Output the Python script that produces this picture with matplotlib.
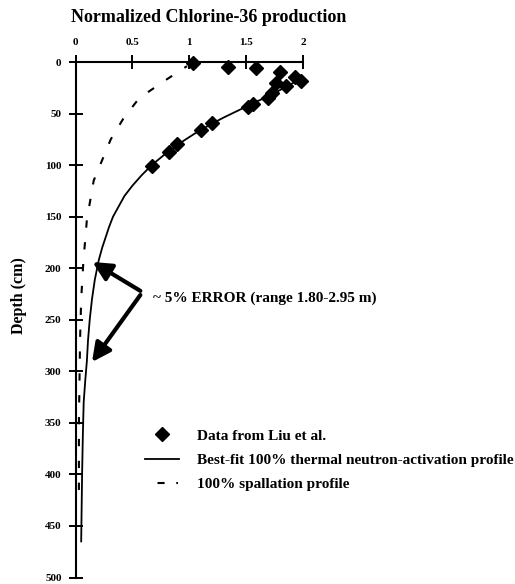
import matplotlib
matplotlib.use("Agg")
import matplotlib.pyplot as plt
from matplotlib.lines import Line2D

plt.rcParams['font.family'] = ['Liberation Serif', 'DejaVu Serif']
plt.rcParams['font.weight'] = 'bold'

# data: normalized production vs depth (cm)
liu_x = [1.03, 1.34, 1.59, 1.80, 1.93, 1.98, 1.85, 1.76, 1.73, 1.69, 1.56, 1.52,
         1.20, 1.10, 0.89, 0.82, 0.67]
liu_depth = [1, 5, 6, 10, 15, 18, 23, 20, 30, 35, 41, 44,
             59, 66, 80, 87, 101]

fit_x = [1.97, 1.85, 1.72, 1.58, 1.45, 1.30, 1.18, 1.04, 0.90, 0.78, 0.67, 0.58,
         0.50, 0.43, 0.38, 0.33, 0.295, 0.265, 0.235, 0.205, 0.17, 0.145,
         0.125, 0.11, 0.10, 0.085, 0.072, 0.065, 0.058, 0.05]
fit_depth = [17, 24, 32, 39, 46, 54, 61, 70, 80, 90, 100, 110,
             120, 130, 140, 150, 160, 170, 180, 192, 211, 230,
             250, 270, 290, 310, 330, 360, 400, 465]

spall_x = [0.98, 0.80, 0.56, 0.42, 0.31, 0.235, 0.16, 0.13, 0.10, 0.085, 0.07,
           0.05, 0.04, 0.035, 0.03, 0.03]
spall_depth = [4, 17, 35, 55, 75, 95, 115, 134, 153, 173, 192,
               230, 270, 310, 350, 420]

x_ticks = [0, 0.5, 1, 1.5, 2]
x_ticklabels = ['0', '0.5', '1', '1.5', '2']
y_ticks = [0, 50, 100, 150, 200, 250, 300, 350, 400, 450, 500]

W, H = 515, 584
fig = plt.figure(figsize=(W / 100, H / 100), dpi=100)
x0, x1, y0, y1 = 75.5, 303, 62, 577.5
ax = fig.add_axes([x0 / W, 1 - y1 / H, (x1 - x0) / W, (y1 - y0) / H])

ax.plot(spall_x, spall_depth, color='black', lw=1.5, linestyle=(2, (3.5, 7)))
ax.plot(fit_x, fit_depth, color='black', lw=1.3)
ax.plot(liu_x, liu_depth, linestyle='none', marker='D', markersize=7,
        color='black', clip_on=False)

ax.set_xlim(0, 2)
ax.set_ylim(500, 0)
ax.xaxis.tick_top()
ax.set_xticks(x_ticks)
ax.set_xticklabels(x_ticklabels)
ax.set_yticks(y_ticks)
for s in ['right', 'bottom']:
    ax.spines[s].set_visible(False)
for s in ['left', 'top']:
    ax.spines[s].set_linewidth(1.5)
ax.tick_params(axis='both', direction='inout', length=10, width=1.4,
               labelsize=8, pad=5)
ax.tick_params(axis='x', pad=6)

# arrows to the curve
arrow = dict(arrowstyle='-|>', lw=3, mutation_scale=28, color='black',
             shrinkA=0, shrinkB=0)
ax.annotate('', xy=(0.15, 194), xytext=(0.57, 222), arrowprops=arrow)
ax.annotate('', xy=(0.145, 291), xytext=(0.57, 226), arrowprops=arrow)
ax.text(0.68, 229, '~ 5% ERROR (range 1.80-2.95 m)', fontsize=11,
        va='center', ha='left', fontweight='bold')

fig.text(209 / W, 1 - 17 / H, 'Normalized Chlorine-36 production',
         ha='center', va='center', fontsize=13, fontweight='bold')
fig.text(19 / W, 1 - 296 / H, 'Depth (cm)', rotation=90,
         ha='center', va='center', fontsize=11.5, fontweight='bold')

handles = [
    Line2D([], [], linestyle='none', marker='D', markersize=7, color='black'),
    Line2D([], [], color='black', lw=1.3),
    Line2D([], [], color='black', lw=1.5,
           linestyle=(0, (0.01, 6.0, 3.4, 5.6, 0.8, 20))),
]
labels = ['Data from Liu et al.',
          'Best-fit 100% thermal neutron-activation profile',
          '100% spallation profile']
fig.legend(handles, labels, loc='upper left',
           bbox_to_anchor=(145 / W, 1 - 429 / H),
           frameon=False, borderpad=0, borderaxespad=0,
           handlelength=2.2, handletextpad=1.2, labelspacing=0.7,
           prop={'size': 11, 'weight': 'bold'})

fig.savefig('out.png', dpi=100)
